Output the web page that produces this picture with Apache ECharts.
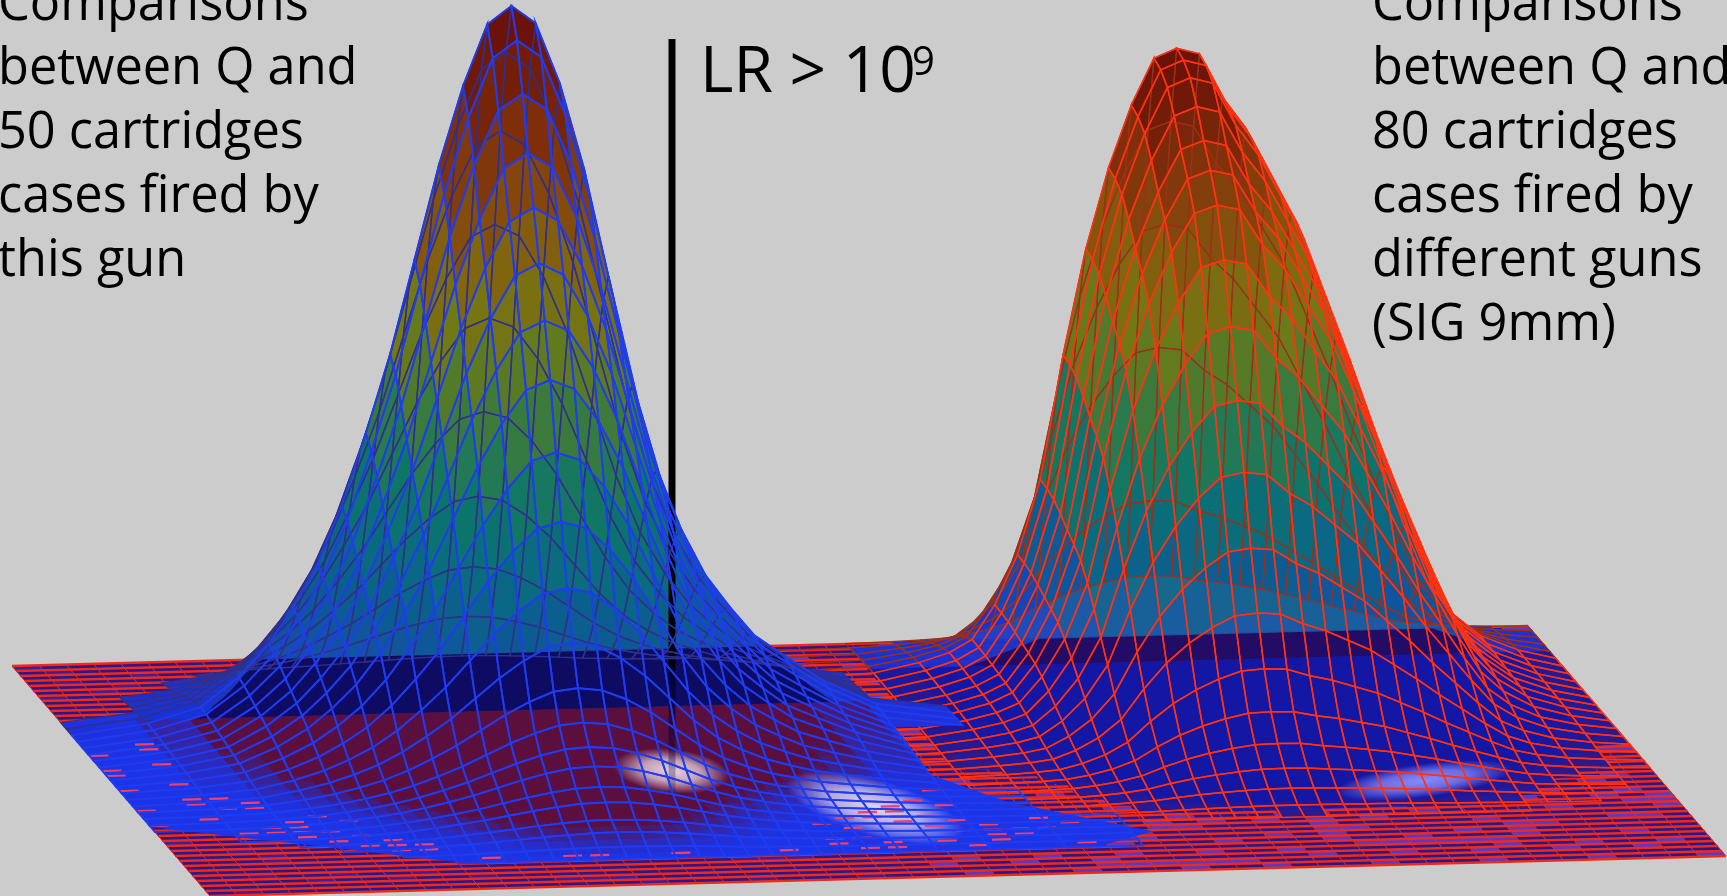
<!DOCTYPE html>
<html><head><meta charset="utf-8">
<style>html,body{margin:0;padding:0;background:#cccccc;overflow:hidden}#c{width:1727px;height:896px}</style>
<script src="https://cdn.jsdelivr.net/npm/echarts@6/dist/echarts.min.js"></script>
</head><body><div id="c"></div>
<script>
// ---- text ----
const leftCaption = ['Comparisons','between Q and','50 cartridges','cases fired by','this gun'];
const rightCaption = ['Comparisons','between Q and','80 cartridges','cases fired by','different guns','(SIG 9mm)'];
const lrLabel = 'LR > 10', lrExponent = '9';
// ---- surface 1 (blue): read from silhouette and ridge of the left peak ----
const s1Centre = [0.29, 0.30];
const s1AcrossOffsets = [-.29,-.24,-.205,-.18,-.16,-.144,-.128,-.112,-.096,-.08,-.064,-.048,-.032,-.016,0,.016,.032,.048,.064,.08,.096,.112,.128,.144,.16,.18,.205,.24,.29,.34];
const s1AcrossShare   = [0,.014,.035,.075,.12,.17,.23,.31,.41,.52,.65,.78,.89,.975,1,.975,.89,.77,.62,.47,.35,.265,.2,.155,.115,.085,.05,.015,0,0];
const s1RowV      = [.05,.078,.106,.134,.162,.19,.218,.246,.274,.302,.33,.358,.386,.414,.442,.47,.498,.526,.554,.582,.61,.638,.666,.694,.722,.75,.778,.806,.834,.862,.89];
const s1RowHeight = [10,56,112,189,280,380,480,580,665,718,690,643,590,542,493,442,389,323,260,200,152,113,85,67,54,40,31,20,14,6,0];
// outline of the flat blue base on the floor, [u, v]
const s1BaseOutline = [[0,.25],[.1,.18],[.3,.18],[.505,.3],[.516,.51],[.567,.69],[.644,.83],[.6,.89],[.184,.89],[0,.70]];
// ---- surface 2 (red): read from silhouette and ridge of the right peak ----
const s2Centre = [0.75, 0.14];
const s2AcrossOffsets = [-.25,-.2,-.17,-.15,-.135,-.12,-.105,-.09,-.075,-.06,-.045,-.03,-.015,0,.015,.03,.045,.06,.075,.09,.105,.12,.135,.15,.165,.18,.2,.225,.25];
const s2AcrossShare   = [0,.005,.02,.035,.055,.11,.19,.31,.51,.68,.81,.91,.985,1,.99,.92,.87,.80,.73,.63,.53,.42,.32,.22,.13,.08,.04,.015,0];
const s2RowV      = [0,.02,.05,.08,.11,.14,.174,.208,.242,.276,.31,.344,.378,.412,.446,.48,.514,.548,.582,.616,.65,.684,.718,.752,.786,.82,.854,.888];
const s2RowHeight = [60,140,300,430,540,620,616,606,585,559,537,510,463,404,338,274,206,149,101,66,42,25,13,4,0,0,0,0];
// ---- height colour ramp (share of peak height -> colour) ----
const rampShare = [0,.05,.1,.18,.26,.34,.42,.5,.58,.68,.78,.88,1];
const rampColor = ['#1830d8','#1638c8','#1250a8','#0c5c90','#0a6a80','#0c7668','#2a7a4c','#4c7a2c','#727a14','#82640e','#84460c','#7e2c0a','#6a1208'];
// ---- highlights on the surfaces: [u, v, rx, ry, rotation, colour] ----
const s1Highlights = [[.367,.52,58,22,-.1,'#f0dce8'],[.478,.70,92,28,-.28,'#f0dce8']];
const s2Highlights = [[.847,.645,90,17,.13,'#8f92ff']];
// ---- view ----
const floorOrigin=[12,666], floorEdgeU=[1516,-40], floorEdgeV=[198,230];
const floorRows=46, floorCols=56;
const barX=672, barTop=39, barBottom=797;

function project(u,v,z){return [floorOrigin[0]+u*floorEdgeU[0]+v*floorEdgeV[0], floorOrigin[1]+u*floorEdgeU[1]+v*floorEdgeV[1]-(z||0)];}
function hex(c){return [1,3,5].map(k=>parseInt(c.substr(k,2),16));}
function rampRgb(t){t=Math.min(1,Math.max(0,t));let k=0;while(k<rampShare.length-2&&t>rampShare[k+1])k++;
  const f=(t-rampShare[k])/(rampShare[k+1]-rampShare[k]),a=hex(rampColor[k]),b=hex(rampColor[k+1]);
  return a.map((x,n)=>Math.round(x+(b[n]-x)*f));}
function inBase(u,v){let inside=false;const P=s1BaseOutline;
  for(let i=0,j=P.length-1;i<P.length;j=i++){if((P[i][1]>v)!==(P[j][1]>v)&&u<(P[j][0]-P[i][0])*(v-P[i][1])/(P[j][1]-P[i][1])+P[i][0])inside=!inside;}
  return inside;}
function buildSurface(c,off,share,rowV,rowH,active,pow){
  const s={c,us:off.map(o=>c[0]+o),vs:rowV,zmax:Math.max(...rowH),pow,z:(r,k)=>rowH[r]*share[k],cells:[]};
  s.vcRow=rowH.indexOf(s.zmax);
  for(let r=0;r<rowV.length-1;r++)for(let k=0;k<off.length-1;k++){
    const M=Math.max(s.z(r,k),s.z(r,k+1),s.z(r+1,k),s.z(r+1,k+1));
    const u=(s.us[k]+s.us[k+1])/2,v=(rowV[r]+rowV[r+1])/2;
    if(active(M,u,v))s.cells.push([r,k,M]);
  }
  s.corners=(r,k,f)=>[[r,k],[r,k+1],[r+1,k+1],[r+1,k]].map(([a,b])=>project(s.us[b],s.vs[a],f?0:s.z(a,b)));
  return s;
}
const s1=buildSurface(s1Centre,s1AcrossOffsets,s1AcrossShare,s1RowV,s1RowHeight,(M,u,v)=>M>=10||inBase(u,v),1.25);
const s2=buildSurface(s2Centre,s2AcrossOffsets,s2AcrossShare,s2RowV,s2RowHeight,(M)=>M>=1,1.5);

function series(z,data,render){return {type:'custom',coordinateSystem:'cartesian2d',silent:true,animation:false,clip:false,progressive:0,z,data,renderItem:render};}
function polyEl(api,pts,style){return {type:'polygon',shape:{points:pts.map(p=>api.coord(p))},style};}
function lineEl(api,pts,style){return {type:'polyline',shape:{points:pts.map(p=>api.coord(p))},style:Object.assign({fill:null},style)};}

// floor
const floorData=[];for(let i=0;i<floorRows;i++)for(let j=0;j<floorCols;j++)floorData.push([i,j]);
const floorFill=(p)=>series(p,floorData,(o,api)=>{
  const i=api.value(0),j=api.value(1),h=(i*73+j*151+i*j*7)%23,u=j/floorCols,v=i/floorRows;
  const pts=[project(u,v),project(u+1/floorCols,v),project(u+1/floorCols,v+1/floorRows),project(u,v+1/floorRows)];
  let fill='#2b1788';if(u>.45&&h<6)fill='#5c38c4';else if(h<3)fill='#3d1f9c';
  return polyEl(api,pts,{fill,stroke:fill,lineWidth:.5});
});
const floorLineData=[];for(let i=0;i<=floorRows;i++)floorLineData.push([0,i]);for(let j=0;j<=floorCols;j++)floorLineData.push([1,j]);
const floorLines=(p)=>series(p,floorLineData,(o,api)=>{
  const d=api.value(0),n=api.value(1);
  if(d===0)return lineEl(api,[project(0,n/floorRows),project(1,n/floorRows)],{stroke:'#ee2a1a',lineWidth:2.3});
  return lineEl(api,[project(n/floorCols,0),project(n/floorCols,1)],{stroke:'#e8281c',lineWidth:1});
});
const baseSeries=(p)=>series(p,[[0]],(o,api)=>polyEl(api,s1BaseOutline.map(q=>project(q[0],q[1])),{fill:'#1c33e6',stroke:null}));
// surface fills back to front
const fillSeries=(s,p,minM)=>series(p,s.cells.filter(c=>c[2]>=minM),(o,api)=>{
  const r=api.value(0),k=api.value(1),M=api.value(2);
  const rgb=rampRgb(Math.pow(M/s.zmax,s.pow));
  return polyEl(api,s.corners(r,k),{fill:'rgba('+rgb.join(',')+',0.94)',stroke:null});
});
// footprint overlay: the floor as seen through the translucent surface
const mixHex=(a,b,t)=>{const A=hex(a),B=hex(b);return 'rgb('+A.map((x,n)=>Math.round(x+(B[n]-x)*t)).join(',')+')';};
const overlaySeries=(s,p,thr,full,v0,low,high)=>series(p,s.cells.filter(c=>c[2]>=thr&&s.vs[c[0]]>=v0),(o,api)=>{
  const t=Math.min(1,(api.value(2)-thr)/(full-thr)),fill=mixHex(low,high,t);
  return polyEl(api,s.corners(api.value(0),api.value(1),true),{fill,stroke:fill,lineWidth:.6});
});
// dark band: back part of floor seen through the surface, under its silhouette; tapered at both ends
const bandSeries=(s,p,v0,minM,fill)=>series(p,[[0]],(o,api)=>{
  const env={},step=3,taper=70;
  const put=(a,b)=>{const x0=Math.min(a[0],b[0]),x1=Math.max(a[0],b[0]);
    for(let x=Math.ceil(x0/step)*step;x<=x1;x+=step){const t=x1===x0?0:(x-a[0])/(b[0]-a[0]),y=a[1]+(b[1]-a[1])*t;if(env[x]===undefined||y<env[x])env[x]=y;}};
  s.cells.filter(c=>c[2]>=minM).forEach(c=>{const q=s.corners(c[0],c[1]);put(q[0],q[1]);put(q[1],q[2]);put(q[2],q[3]);put(q[3],q[0]);});
  const xs=Object.keys(env).map(Number).sort((a,b)=>a-b),top=[],bot=[];
  const yAt=(x,v)=>{const u=(x-floorOrigin[0]-v*floorEdgeV[0])/floorEdgeU[0];return floorOrigin[1]+u*floorEdgeU[1]+v*floorEdgeV[1];};
  const xa=xs[0],xb=xs[xs.length-1];
  xs.forEach(x=>{const b=yAt(x,v0);let t=Math.min(b,Math.max(env[x],yAt(x,0)));
    const e=Math.min(1,Math.min(x-xa,xb-x)/taper);t=b-(b-t)*e;top.push([x,t]);bot.push([x,b]);});
  return polyEl(api,top.concat(bot.reverse()),{fill,stroke:null});
});
const highlightSeries=(list,p)=>series(p,list.map((h,n)=>[n]),(o,api)=>{
  const h=list[api.value(0)],c=api.coord(project(h[0],h[1]));
  const rgb=hex(h[5]).join(',');
  return {type:'circle',x:c[0],y:c[1],scaleX:h[2],scaleY:h[3],rotation:h[4],shape:{cx:0,cy:0,r:1},
    style:{fill:{type:'radial',x:.5,y:.5,r:.5,colorStops:[{offset:0,color:'rgba('+rgb+',.95)'},{offset:.5,color:'rgba('+rgb+',.7)'},{offset:1,color:'rgba('+rgb+',0)'}]}}};
});
const wireSeries=(s,p,dim,color,w)=>series(p,s.cells.filter(c=>(c[0]<s.vcRow)===dim),(o,api)=>{
  const q=s.corners(api.value(0),api.value(1));
  return polyEl(api,q,{fill:null,stroke:color,lineWidth:w});
});
// red flecks where flat blue base and floor interfere
const fleckData=[];
for(let i=0;i<floorRows;i++)for(let j=0;j<floorCols;j++){
  const u=j/floorCols,v=i/floorRows,h=(i*41+j*97+i*j*3)%11;
  if(h>3||!inBase(u,v)||!inBase(u+.02,v))continue;
  const e=s1.cells.find(c=>s1.us[c[1]]<=u&&u<s1.us[c[1]+1]&&s1.vs[c[0]]<=v&&v<s1.vs[c[0]+1]);
  if(e&&e[2]<10)fleckData.push([i,j]);
}
const fleckSeries=(p)=>series(p,fleckData,(o,api)=>{
  const v=api.value(0)/floorRows,u=api.value(1)/floorCols;
  return lineEl(api,[project(u,v),project(u+.7/floorCols,v)],{stroke:'#f0406a',lineWidth:2.2});
});
const barSeries=(p)=>series(p,[[barX,barTop,barBottom]],(o,api)=>{
  const a=api.coord([api.value(0),api.value(1)]),b=api.coord([api.value(0),api.value(2)]);
  return {type:'line',shape:{x1:a[0],y1:a[1],x2:b[0],y2:b[1]},style:{lineWidth:7,stroke:{type:'linear',x:0,y:0,x2:0,y2:1,global:false,
    colorStops:[{offset:0,color:'#000'},{offset:.82,color:'#000'},{offset:.84,color:'rgba(0,0,40,.75)'},{offset:1,color:'rgba(0,0,60,.15)'}]}}};
});

const capFont='"Open Sans"';
const capStyle={fontFamily:capFont,fontSize:50.5,lineHeight:64,fill:'#000',textAlign:'left',textVerticalAlign:'top'};
const chart=echarts.init(document.getElementById('c'),null,{renderer:'canvas'});
chart.setOption({
  backgroundColor:'#cccccc',animation:false,
  grid:{left:0,right:0,top:0,bottom:0},
  xAxis:{type:'value',min:0,max:1727,show:false},
  yAxis:{type:'value',min:0,max:896,inverse:true,show:false},
  series:[
    floorFill(1),floorLines(2),
    fillSeries(s2,3,4),bandSeries(s2,4,.11,60,'#230c66'),overlaySeries(s2,5,4,20,.11,'#2a1a90','#1416a4'),highlightSeries(s2Highlights,6),
    wireSeries(s2,7,true,'#9c3018',1.2),wireSeries(s2,8,false,'#ff3212',1.5),
    baseSeries(9),fillSeries(s1,10,10),bandSeries(s1,11,.246,45,'#0e0c62'),overlaySeries(s1,12,8,50,.246,'#1c33e6','#5c0f3c'),highlightSeries(s1Highlights,13),
    fleckSeries(14),barSeries(15),
    wireSeries(s1,16,true,'#30308c',1.4),wireSeries(s1,17,false,'#1f3cf0',1.8)
  ],
  graphic:[
    {type:'text',x:-2,y:-26,z:100,style:Object.assign({text:leftCaption.join('\n')},capStyle)},
    {type:'text',x:1372,y:-26,z:100,style:Object.assign({text:rightCaption.join('\n')},capStyle)},
    {type:'text',x:700,y:42,z:100,style:{text:lrLabel,fontFamily:capFont,fontSize:64,fill:'#000'}},
    {type:'text',x:912,y:44,z:100,style:{text:lrExponent,fontFamily:capFont,fontSize:40,fill:'#000'}}
  ]
});
</script></body></html>
